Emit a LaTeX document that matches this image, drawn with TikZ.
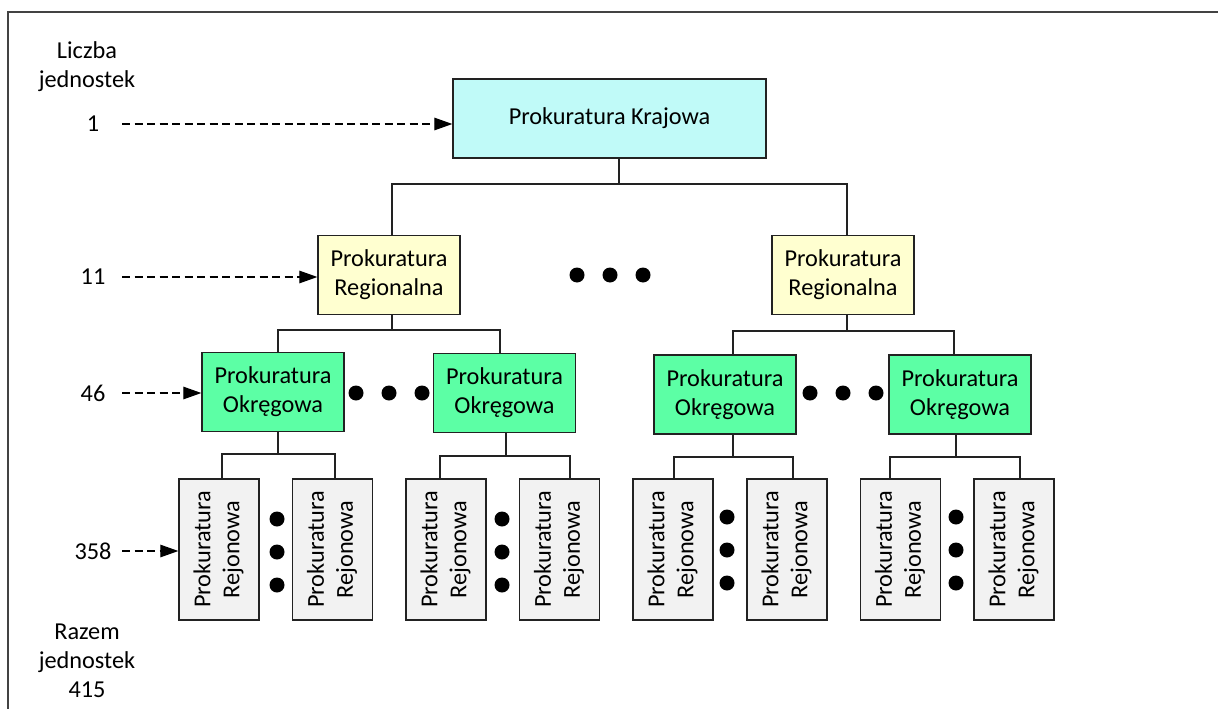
\documentclass[tikz,border=0pt]{standalone}
\usepackage{fontspec}
\setmainfont{Carlito}
\usetikzlibrary{arrows.meta}
\definecolor{krajfill}{HTML}{C0FAF8}
\definecolor{regfill}{HTML}{FFFFD0}
\definecolor{okrfill}{HTML}{5CFFA5}
\definecolor{rejfill}{HTML}{F2F2F2}
\definecolor{edge}{HTML}{222222}

\newcommand{\rejtext}{\rotatebox{90}{\begin{tabular}{@{}c@{}}Prokuratura\\Rejonowa\end{tabular}}}

\begin{document}
\begin{tikzpicture}[x=1pt,y=-1pt,
  every node/.style={font=\fontsize{24.3}{29}\selectfont, text=black},
  unit/.style={draw=edge, line width=1.3pt, align=center, inner sep=0pt,
               minimum width=142pt, minimum height=79pt},
  kraj/.style={unit, fill=krajfill, minimum width=313pt},
  reg/.style={unit, fill=regfill},
  okr/.style={unit, fill=okrfill},
  rej/.style={unit, fill=rejfill, minimum width=80pt, minimum height=141pt},
  conn/.style={draw=edge, line width=1.3pt},
  darr/.style={draw=black, line width=1.2pt, dash pattern=on 8pt off 4.5pt,
               -{Triangle[length=18pt,width=12.5pt]}},
  dot/.style={circle, fill=black, inner sep=0pt, minimum size=15pt},
  lbl/.style={align=center, inner sep=0pt}
]
\useasboundingbox (0,0) rectangle (1218,709);

% outer frame (left and top edges)
\draw[line width=2pt, draw=edge!85] (8,709) -- (8,12) -- (1218,12);

% national level
\node[kraj] (K) at (609.5,118.5) {Prokuratura Krajowa};

% regional level
\node[reg] (R1) at (389,275) {Prokuratura\\Regionalna};
\node[reg] (R2) at (843,275) {Prokuratura\\Regionalna};

% district level
\node[okr] (O1) at (273,392) {Prokuratura\\Okręgowa};
\node[okr] (O2) at (504.5,393) {Prokuratura\\Okręgowa};
\node[okr] (O3) at (725,394.5) {Prokuratura\\Okręgowa};
\node[okr] (O4) at (960,394.5) {Prokuratura\\Okręgowa};

% local level
\node[rej] (J1) at (219,549.5) {\rejtext};
\node[rej] (J2) at (332.5,549.5) {\rejtext};
\node[rej] (J3) at (446,549.5) {\rejtext};
\node[rej] (J4) at (559.5,549.5) {\rejtext};
\node[rej] (J5) at (673,549.5) {\rejtext};
\node[rej] (J6) at (787,549.5) {\rejtext};
\node[rej] (J7) at (900.5,549.5) {\rejtext};
\node[rej] (J8) at (1014,549.5) {\rejtext};

% tree connectors
\coordinate (kb) at (619,184);
\draw[conn] (K.south -| kb) -- (kb);
\draw[conn] ([xshift=3pt]R1.north) |- (kb) -| ([xshift=4pt]R2.north);

\coordinate (r1b) at (392,330);
\draw[conn] (R1.south -| r1b) -- (r1b);
\draw[conn] ([xshift=5pt]O1.north) |- (r1b) -| ([xshift=-4.5pt]O2.north);

\coordinate (r2b) at (847,331);
\draw[conn] (R2.south -| r2b) -- (r2b);
\draw[conn] ([xshift=8pt]O3.north) |- (r2b) -| ([xshift=-6pt]O4.north);

\coordinate (o1b) at (278,454);
\draw[conn] (O1.south -| o1b) -- (o1b);
\draw[conn] ([xshift=3pt]J1.north) |- (o1b) -| ([xshift=2.5pt]J2.north);

\coordinate (o2b) at (506,456);
\draw[conn] (O2.south -| o2b) -- (o2b);
\draw[conn] ([xshift=-6pt]J3.north) |- (o2b) -| ([xshift=10.5pt]J4.north);

\coordinate (o3b) at (733,457);
\draw[conn] (O3.south -| o3b) -- (o3b);
\draw[conn] ([xshift=1pt]J5.north) |- (o3b) -| ([xshift=6pt]J6.north);

\coordinate (o4b) at (956,457);
\draw[conn] (O4.south -| o4b) -- (o4b);
\draw[conn] ([xshift=-10.5pt]J7.north) |- (o4b) -| ([xshift=6pt]J8.north);

% ellipsis dots
\foreach \i/\x in {1/577,2/610,3/643} \node[dot] (dr\i) at (\x,275) {};
\foreach \i/\x in {1/356,2/389,3/422} \node[dot] (da\i) at (\x,393) {};
\foreach \i/\x in {1/810,2/843,3/876} \node[dot] (db\i) at (\x,393) {};
\foreach \i/\y in {1/519,2/552,3/585} {
  \node[dot] (dc\i) at (277,\y) {};
  \node[dot] (dd\i) at (502,\y) {};
}
\foreach \i/\y in {1/517,2/550,3/583} {
  \node[dot] (de\i) at (727,\y) {};
  \node[dot] (df\i) at (956,\y) {};
}

% counts per level
\node[lbl] (head) at (87,67) {Liczba\\jednostek};
\node[lbl] (n1) at (93,124) {1};
\node[lbl] (n2) at (93,277) {11};
\node[lbl] (n3) at (93,393) {46};
\node[lbl] (n4) at (93,551) {358};
\node[lbl] (total) at (87,661) {Razem\\jednostek\\415};

\coordinate (s1) at (122,124);
\coordinate (s2) at (122,277);
\coordinate (s3) at (122,393);
\coordinate (s4) at (122,551);
\draw[darr] (s1) -- (s1 -| K.west);
\draw[darr] (s2) -- (s2 -| R1.west);
\draw[darr] (s3) -- (s3 -| O1.west);
\draw[darr] (s4) -- (s4 -| J1.west);
\end{tikzpicture}
\end{document}
